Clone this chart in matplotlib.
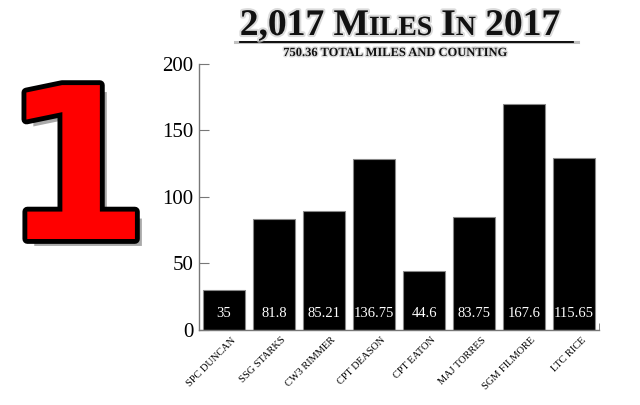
import matplotlib
matplotlib.use("Agg")
import matplotlib.pyplot as plt
import matplotlib.patheffects as pe
import matplotlib.transforms as mtransforms
from matplotlib.lines import Line2D

names = ["SPC Duncan", "SSG Starks", "CW3 Rimmer", "CPT Deason",
         "CPT Eaton", "MAJ Torres", "SGM Filmore", "LTC Rice"]
# bar heights as drawn (they do not match the printed labels)
heights = [30, 83.7, 89, 128.3, 44.1, 84.7, 169.7, 129]
labels = ["35", "81.8", "85.21", "136.75", "44.6", "83.75", "167.6", "115.65"]
yticks = [0, 50, 100, 150, 200]

serif = "Liberation Serif"

fig = plt.figure(figsize=(6.4, 4.05), dpi=100)
ax = fig.add_axes([0.311, 0.185, 0.625, 0.658])

x = list(range(len(names)))
ax.bar(x, heights, width=0.85, color="black", edgecolor="#888888", linewidth=0.8)
for xi, lab in zip(x, labels):
    ax.text(xi, 12.5, lab, color="white", ha="center", va="center",
            fontsize=10.5, family=serif)

ax.set_xlim(-0.5, 7.5)
ax.set_ylim(0, 200)
ax.set_yticks(yticks)
ax.set_yticklabels([str(t) for t in yticks], family=serif, fontsize=15)
ax.tick_params(axis="y", direction="in", length=7, color="#777777", pad=4)
ax.set_xticks(x)
ax.set_xticklabels([n.upper() for n in names], rotation=45, ha="right",
                   rotation_mode="anchor", family=serif, fontsize=7.5)
ax.tick_params(axis="x", length=0, pad=4)
shift = mtransforms.ScaledTranslation(7 / 100, 0, fig.dpi_scale_trans)
for lbl in ax.get_xticklabels():
    lbl.set_transform(lbl.get_transform() + shift)
ax.set_xticks([7.5], minor=True)
ax.tick_params(axis="x", which="minor", direction="in", length=5, color="#777777")
for s in ["top", "right"]:
    ax.spines[s].set_visible(False)
for s in ["left", "bottom"]:
    ax.spines[s].set_color("#777777")
    ax.spines[s].set_linewidth(1)

# title in faux small caps
renderer = fig.canvas.get_renderer()
parts = [("2,017 M", 27), ("ILES", 20), (" I", 27), ("N", 20), (" 2017", 27)]
glow = [pe.withStroke(linewidth=3, foreground="#cccccc", alpha=0.7)]
texts = []
total = 0
for s, fs in parts:
    t = fig.text(0, 0, s, fontsize=fs, family=serif, weight="bold",
                 color="#111111", path_effects=glow)
    w = t.get_window_extent(renderer).width
    texts.append((t, w))
    total += w
xpos = 400 - total / 2
for t, w in texts:
    t.set_position((xpos / 640, 1 - 35 / 405))
    xpos += w

fig.add_artist(Line2D([235 / 640, 578 / 640], [1 - 42 / 405] * 2,
                      color="#999999", lw=2.2, alpha=0.6))
fig.add_artist(Line2D([240 / 640, 573 / 640], [1 - 42 / 405] * 2,
                      color="black", lw=1.3))

fig.text(395 / 640, 1 - 53 / 405, "750.36 TOTAL MILES AND COUNTING",
         ha="center", va="center", fontsize=9, family=serif, weight="bold",
         color="#111111",
         path_effects=[pe.withStroke(linewidth=2, foreground="#dddddd")])

# big red number one
fig.text(76 / 640, 1 - 239 / 405, "1", ha="center", va="baseline",
         fontsize=152, family="DejaVu Sans", weight="bold", color="#ff0000",
         path_effects=[pe.SimplePatchShadow(offset=(5, -5), shadow_rgbFace="#555555", alpha=0.5),
                       pe.Stroke(linewidth=7, foreground="black"),
                       pe.Normal()])

fig.savefig("out.png", dpi=100)
